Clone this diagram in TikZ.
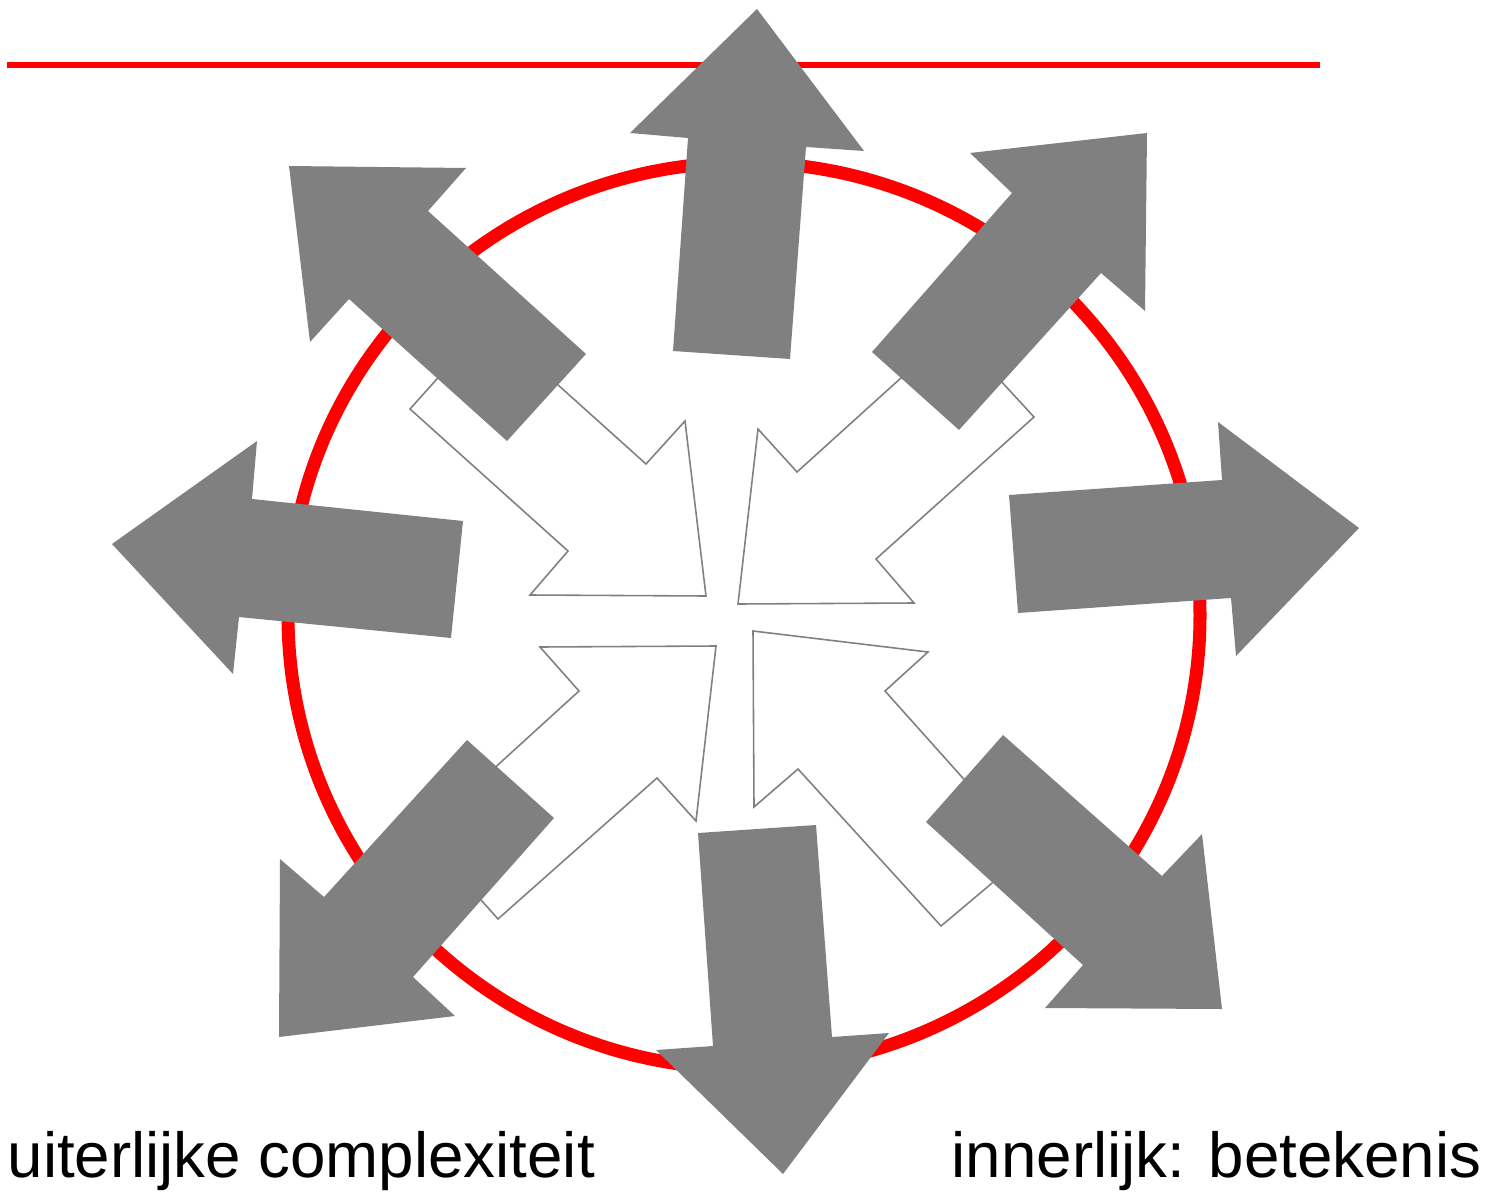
\documentclass[tikz,border=0pt]{standalone}
\usepackage{fontspec}
\setmainfont{Liberation Sans}
\begin{document}
\begin{tikzpicture}[x=0.01cm,y=-0.01cm,
  redline/.style={draw={rgb,255:red,255;green,0;blue,0}, line width=1.45pt},
  redring/.style={draw={rgb,255:red,255;green,0;blue,0}, line width=3.7pt},
  grayarrow/.style={fill={rgb,255:red,128;green,128;blue,128}, draw=none},
  whitearrow/.style={fill=white, draw={rgb,255:red,128;green,128;blue,128}, line width=0.45pt, line join=miter},
  label/.style={inner sep=0pt, font=\fontsize{18.1}{21}\selectfont}]
\useasboundingbox (0,0) rectangle (1488,1194);

% red horizontal line and circle
\draw[redline] (7,65) -- (1320,65);
\draw[redring] (744,615.5) ellipse [x radius=456, y radius=453];

% inward white arrows
\filldraw[whitearrow] (410,409) -- (568,551) -- (530,595) -- (706,596) -- (685,421) -- (646,464) -- (488,322) -- cycle;
\filldraw[whitearrow] (1034,417) -- (876,559) -- (914,603) -- (738,604) -- (758,429) -- (797,472) -- (954,330) -- cycle;
\filldraw[whitearrow] (498,919) -- (657,778) -- (696,821) -- (716,646) -- (540,647) -- (579,691) -- (422,834) -- cycle;
\filldraw[whitearrow] (941,926) -- (798,769) -- (754,807) -- (753,631) -- (928,652) -- (885,691) -- (1029,852) -- cycle;

% outward gray arrows
\fill[grayarrow] (673,351) -- (688,138) -- (630,133) -- (757,9) -- (864,151) -- (806,147) -- (790,359) -- cycle;
\fill[grayarrow] (872,352) -- (1012,193) -- (970,153) -- (1147,133) -- (1145,311) -- (1101,273) -- (959,430) -- cycle;
\fill[grayarrow] (1009,495) -- (1222,480) -- (1218,422) -- (1359,528) -- (1236,656) -- (1231,598) -- (1018,613) -- cycle;
\fill[grayarrow] (1003,735) -- (1162,876) -- (1202,834) -- (1222,1009) -- (1045,1008) -- (1083,965) -- (926,822) -- cycle;
\fill[grayarrow] (698,833) -- (816,825) -- (832,1037) -- (889,1033) -- (783,1174) -- (656,1050) -- (713,1046) -- cycle;
\fill[grayarrow] (467,740) -- (554,818) -- (413,977) -- (455,1016) -- (279,1037) -- (280,859) -- (324,897) -- cycle;
\fill[grayarrow] (463,521) -- (451,638) -- (239,617) -- (233,674) -- (112,544) -- (257,441) -- (252,499) -- cycle;
\fill[grayarrow] (586,354) -- (507,441) -- (349,299) -- (310,342) -- (289,166) -- (466,168) -- (428,211) -- cycle;

% labels
\node[label, anchor=base west] (outer) at (7,1177) {uiterlijke complexiteit};
\node[label, anchor=base east] (inner) at (1482,1177) {innerlijk: betekenis};
\end{tikzpicture}
\end{document}
